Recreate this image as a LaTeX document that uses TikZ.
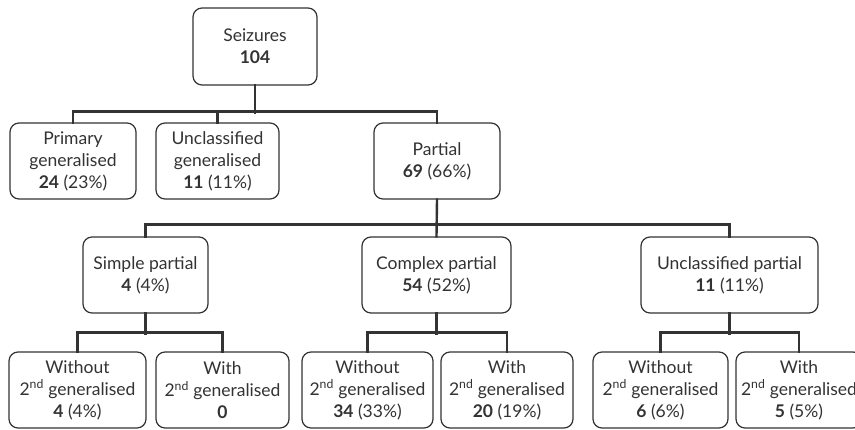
\documentclass[tikz,border=0pt]{standalone}
\usepackage{fontspec}
\setmainfont{Lato}
\definecolor{ink}{HTML}{333333}
\tikzset{
  box/.style={draw=ink, text=ink, rounded corners=9pt, line width=1.2pt, align=center,
    inner sep=0pt, minimum height=76pt, font=\fontsize{17.5}{22}\selectfont},
  conn/.style={draw=ink, line width=2.4pt, line cap=rect},
}
\newcommand{\nd}{2\textsuperscript{nd}}
\begin{document}
\begin{tikzpicture}[x=1pt,y=-1pt]
\clip (0,0) rectangle (855,429);
\fill[white] (0,0) rectangle (855,429);
% level 0
\node[box, minimum width=124pt, minimum height=77pt] (seiz) at (255,46.5) {Seizures\\\textbf{104}};
% level 1
\node[box, minimum width=126pt] (prim) at (73,161) {Primary\\generalised\\\textbf{24} (23\%)};
\node[box, minimum width=123pt] (uncg) at (217.5,161) {Unclassified\\generalised\\\textbf{11} (11\%)};
\node[box, minimum width=126pt] (part) at (437,161) {Partial\\\textbf{69} (66\%)};
% level 2
\node[box, minimum width=125pt] (simp) at (145.5,275) {Simple partial\\\textbf{4} (4\%)};
\node[box, minimum width=149pt] (comp) at (436.5,275) {Complex partial\\\textbf{54} (52\%)};
\node[box, minimum width=177pt] (uncp) at (729.5,275) {Unclassified partial\\\textbf{11} (11\%)};
% level 3
\node[box, minimum width=137pt] (b1) at (77.5,390) {Without\\\nd{} generalised\\\textbf{4} (4\%)};
\node[box, minimum width=133pt] (b2) at (222.5,390) {With\\\nd{} generalised\\\textbf{0}};
\node[box, minimum width=131pt] (b3) at (367.5,390) {Without\\\nd{} generalised\\\textbf{34} (33\%)};
\node[box, minimum width=132pt] (b4) at (507,390) {With\\\nd{} generalised\\\textbf{20} (19\%)};
\node[box, minimum width=135pt] (b5) at (660.5,390) {Without\\\nd{} generalised\\\textbf{6} (6\%)};
\node[box, minimum width=126pt] (b6) at (799,390) {With\\\nd{} generalised\\\textbf{5} (5\%)};
% connectors
\draw[conn] (seiz.south) -- ++(0,27);
\draw[conn] (prim.north) -- ++(0,-11) -| (part.north);
\draw[conn] (uncg.north) -- ++(0,-11);
\draw[conn] (part.south) -- (comp.north);
\draw[conn] (simp.north) -- ++(0,-12) -| (uncp.north);
\draw[conn] (simp.south) -- ++(0,20);
\draw[conn] (b1.north) -- ++(0,-19) -| (b2.north);
\draw[conn] (comp.south) -- ++(0,20);
\draw[conn] (b3.north) -- ++(0,-19) -| (b4.north);
\draw[conn] (uncp.south) -- ++(0,20);
\draw[conn] (b5.north) -- ++(0,-19) -| (b6.north);
\end{tikzpicture}
\end{document}
